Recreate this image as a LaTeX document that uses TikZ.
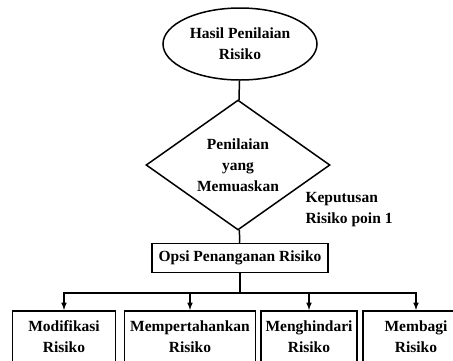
\documentclass[tikz,border=0pt]{standalone}
\usepackage{fontspec}
\setmainfont{Liberation Serif}
\usetikzlibrary{shapes.geometric}

\tikzstyle{start} = [ellipse,draw,line width=1.5pt,minimum width=154pt,minimum height=72pt,inner sep=0pt,align=center]
\tikzstyle{check} = [diamond,draw,line width=1.5pt,minimum width=184pt,minimum height=130pt,aspect=1.4,inner sep=0pt,align=center]
\tikzstyle{box} = [rectangle,draw,line width=1.5pt,align=center]
\tikzstyle{link} = [line width=1.5pt]

\begin{document}
\begin{tikzpicture}[x=1pt,y=-1pt,font=\fontsize{15.5}{21}\selectfont\bfseries]
	\useasboundingbox (0,0) rectangle (453,360);

	\node[start] (hasil) at (240,44) {Hasil Penilaian\\Risiko};
	\node[check] (nilai) at (238,165) {Penilaian\\yang\\Memuaskan};
	\node[anchor=west,align=left] (kep) at (302,210) {Keputusan\\Risiko poin 1};
	\node[box,minimum width=176pt,minimum height=29pt] (opsi) at (240,258) {Opsi Penanganan Risiko};

	\node[box,anchor=north,minimum width=103pt,minimum height=52pt] (m1) at (64,310) {Modifikasi\\Risiko};
	\node[box,anchor=north,minimum width=131pt,minimum height=52pt] (m2) at (190,310) {Mempertahankan\\Risiko};
	\node[box,anchor=north,minimum width=96pt,minimum height=52pt] (m3) at (309,310) {Menghindari\\Risiko};
	\node[box,anchor=north,minimum width=106pt,minimum height=52pt] (m4) at (416,310) {Membagi\\Risiko};

	\coordinate (bus) at (240,293);

	\draw[link] (hasil) -- (nilai);
	\draw[link] (nilai) -- (opsi);
	\draw[link] (opsi) -- (bus);
	\draw[link,->,>=latex] (bus) -| (m1);
	\draw[link,->,>=latex] (bus) -| (m2);
	\draw[link,->,>=latex] (bus) -| (m3);
	\draw[link,->,>=latex] (bus) -| (m4);
\end{tikzpicture}
\end{document}
